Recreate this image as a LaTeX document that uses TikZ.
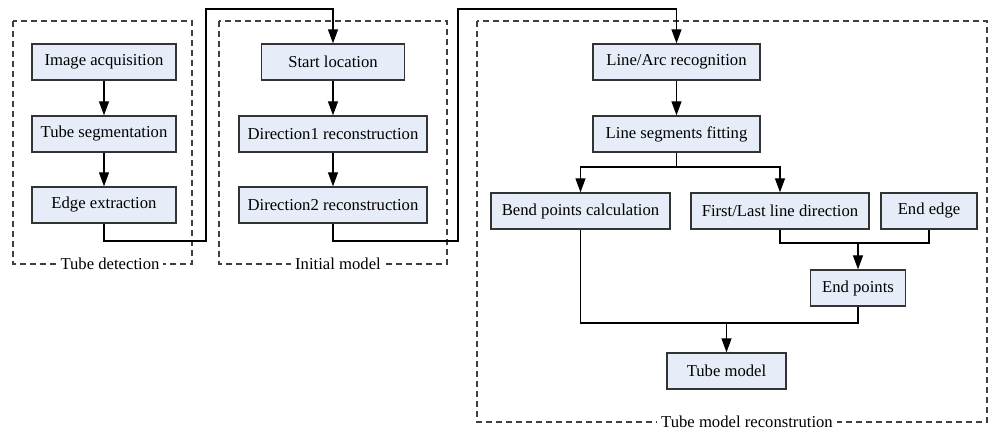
\documentclass[tikz,border=0pt]{standalone}
\usepackage{fontspec}
\setmainfont{Liberation Serif}
\newfontfamily\boxfont{Liberation Serif}
\usetikzlibrary{arrows.meta}
\definecolor{boxfill}{HTML}{E6EDF8}
\definecolor{boxline}{HTML}{333333}
\definecolor{frameline}{HTML}{404040}
\begin{document}
\begin{tikzpicture}[x=0.75pt,y=-0.75pt,
  stepbox/.style={draw=boxline,fill=boxfill,line width=1pt,inner sep=0pt,
    minimum height=27pt,minimum width=#1*0.75pt,font=\boxfont\fontsize{12.5}{15}\selectfont},
  flow/.style={line width=0.9pt,black},
  arr/.style={flow,-{Triangle[length=10.5pt,width=7.5pt]}},
  frame/.style={draw=frameline,line width=0.8pt,dash pattern=on 4.5pt off 3pt},
  framelabel/.style={fill=white,inner xsep=3pt,inner ysep=1pt,font=\boxfont\fontsize{12.5}{15}\selectfont}]
\useasboundingbox (0,0) rectangle (990,431);

% group frames
\draw[frame] (13,21) rectangle (192,264);
\draw[frame] (219,21) rectangle (447,264);
\draw[frame] (477,21) rectangle (987,422);

% tube detection column
\node[stepbox=144] (img)  at (104,62)  {Image acquisition};
\node[stepbox=144] (seg)  at (104,134) {Tube segmentation};
\node[stepbox=144] (edge) at (104,205) {Edge extraction};

% initial model column
\node[stepbox=143] (start) at (333,62)  {Start location};
\node[stepbox=188] (dir1)  at (333,134) {Direction1 reconstruction};
\node[stepbox=188] (dir2)  at (333,205) {Direction2 reconstruction};

% reconstruction part
\node[stepbox=167] (arc)   at (676.5,62)  {Line/Arc recognition};
\node[stepbox=167] (fit)   at (676.5,134) {Line segments fitting};
\node[stepbox=179] (bend)  at (580.5,211) {Bend points calculation};
\node[stepbox=178] (first) at (780,211)   {First/Last line direction};
\node[stepbox=96]  (eedge) at (929,211)   {End edge};
\node[stepbox=95]  (epts)  at (858,288)   {End points};
\node[stepbox=119] (tube)  at (726.5,371) {Tube model};

% frame captions
\node[framelabel] at (110,264) {Tube detection};
\node[framelabel] at (338,264) {Initial model};
\node[framelabel] at (747,422) {Tube model reconstrution};

% vertical chains
\draw[arr] (img) -- (seg);
\draw[arr] (seg) -- (edge);
\draw[arr] (start) -- (dir1);
\draw[arr] (dir1) -- (dir2);
\draw[arr] (arc) -- (fit);

% links between groups
\draw[arr] (edge.south) -- (104,241) -- (206,241) -- (206,9) -| (start.north);
\draw[arr] (dir2.south) -- (333,241) -- (458,241) -- (458,9) -| (arc.north);

% fork below line fitting
\coordinate (fork) at (676.5,167);
\draw[flow] (fit.south) -- (fork);
\draw[arr] (fork) -| (bend.north);
\draw[arr] (fork) -| (first.north);

% end points merge
\coordinate (emerge) at (858,243);
\draw[flow] (first.south) |- (emerge) -| (eedge.south);
\draw[arr] (emerge) -- (epts.north);

% final merge
\coordinate (tmerge) at (726.5,323);
\draw[flow] (bend.south) |- (tmerge) -| (epts.south);
\draw[arr] (tmerge) -- (tube.north);
\end{tikzpicture}
\end{document}
